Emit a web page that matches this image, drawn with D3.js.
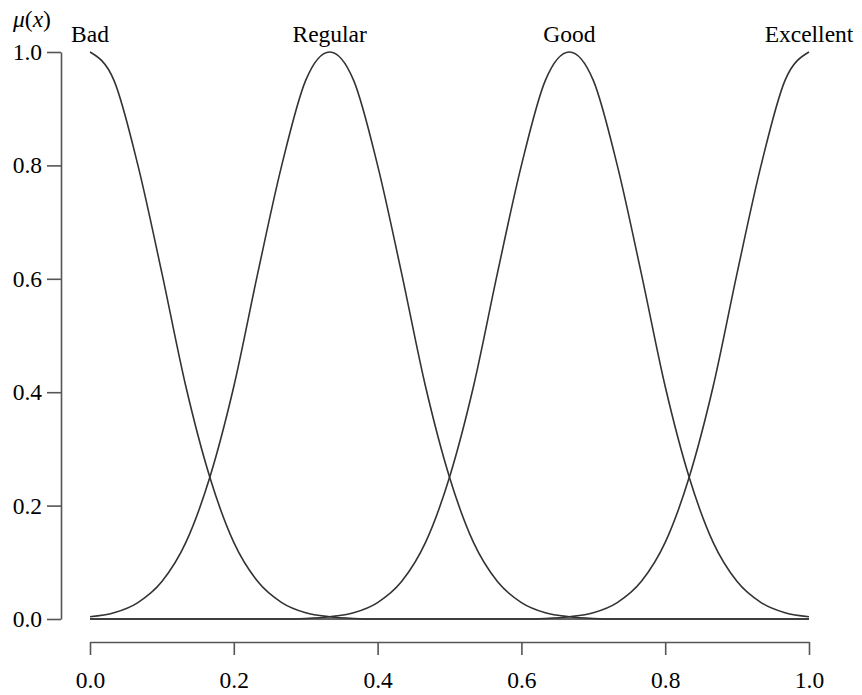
<!DOCTYPE html>
<html lang="en">
<head>
  <meta charset="UTF-8">
  <title>Membership functions</title>
  <script src="https://d3js.org/d3.v7.min.js"></script>
  <style>
    body { margin: 0; background: #fff; }
  </style>
</head>
<body>
  <svg width="862" height="695"></svg>
  <script>
    // sample positions (x) and membership values
    const xs = d3.range(31).map(k => k / 30);
    const bad = [1, .95, .80, .61, .41, .25, .135, .066, .029, .011, .004, .001, 0, 0, 0, 0,
      0, 0, 0, 0, 0, 0, 0, 0, 0, 0, 0, 0, 0, 0, 0];
    const regular = [.004, .011, .029, .066, .135, .25, .41, .61, .80, .95, 1, .95, .80, .61, .41, .25,
      .135, .066, .029, .011, .004, .001, 0, 0, 0, 0, 0, 0, 0, 0, 0];
    const good = [0, 0, 0, 0, 0, 0, 0, 0, 0, .001, .004, .011, .029, .066, .135, .25,
      .41, .61, .80, .95, 1, .95, .80, .61, .41, .25, .135, .066, .029, .011, .004];
    const excellent = [0, 0, 0, 0, 0, 0, 0, 0, 0, 0, 0, 0, 0, 0, 0, 0,
      0, 0, 0, .001, .004, .011, .029, .066, .135, .25, .41, .61, .80, .95, 1];
    const labels = ["Bad", "Regular", "Good", "Excellent"];
    const peaks = [0, 1 / 3, 2 / 3, 1];
    const ticks = [0, 0.2, 0.4, 0.6, 0.8, 1.0];

    const FONT = "'Liberation Serif', 'DejaVu Serif', serif";
    const svg = d3.select("svg");
    const x = d3.scaleLinear().domain([0, 1]).range([90, 809]);
    const y = d3.scaleLinear().domain([0, 1]).range([619, 52]);
    const fmt = d3.format(".1f");

    // y axis
    const ya = svg.append("g").attr("transform", "translate(61,0)")
      .call(d3.axisLeft(y).tickValues(ticks).tickFormat(fmt).tickSize(14).tickSizeOuter(0).tickPadding(5));
    // x axis
    const xa = svg.append("g").attr("transform", "translate(0,642)")
      .call(d3.axisBottom(x).tickValues(ticks).tickFormat(fmt).tickSize(13).tickSizeOuter(0).tickPadding(16));
    [ya, xa].forEach(a => {
      a.attr("font-family", FONT);
      a.selectAll("path, line").attr("stroke", "#555").attr("stroke-width", 1.6);
      a.selectAll("text").style("font-family", FONT).style("font-size", "23.5px").attr("fill", "#000");
    });

    const line = d3.line()
      .x((d, i) => x(xs[i]))
      .y(d => y(d))
      .curve(d3.curveMonotoneX);

    svg.append("g").selectAll("path")
      .data([bad, regular, good, excellent])
      .enter().append("path")
      .attr("d", line)
      .attr("fill", "none")
      .attr("stroke", "#333")
      .attr("stroke-width", 1.6);

    svg.append("g").selectAll("text")
      .data(labels)
      .enter().append("text")
      .attr("x", (d, i) => x(peaks[i]))
      .attr("y", 42)
      .attr("text-anchor", "middle")
      .style("font-family", FONT)
      .style("font-size", "23.5px")
      .text(d => d);

    const mu = svg.append("text").attr("x", 13).attr("y", 27)
      .style("font-family", FONT).style("font-size", "23.5px");
    mu.append("tspan").style("font-style", "italic").text("μ");
    mu.append("tspan").text("(");
    mu.append("tspan").style("font-style", "italic").text("x");
    mu.append("tspan").text(")");
  </script>
</body>
</html>
